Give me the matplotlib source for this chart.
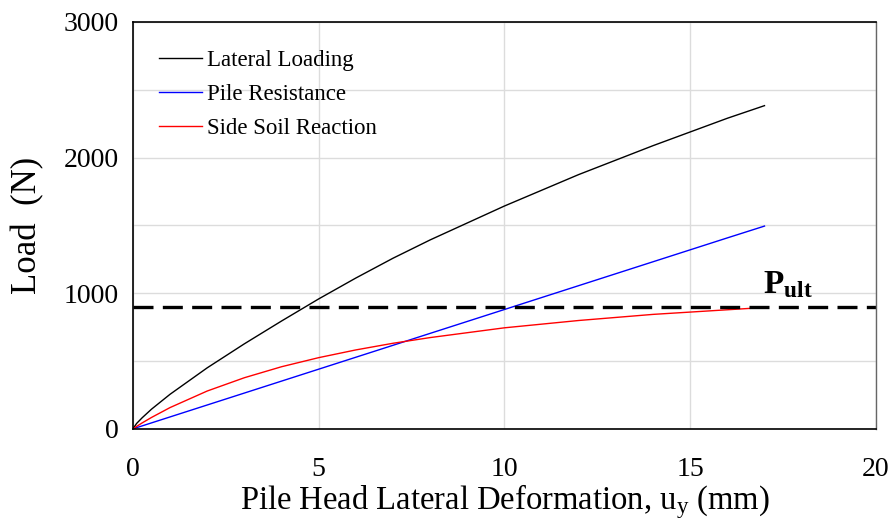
import matplotlib.pyplot as plt

plt.rcParams['font.family'] = ['Liberation Serif', 'DejaVu Serif']
plt.rcParams['mathtext.fontset'] = 'custom'
plt.rcParams['mathtext.rm'] = 'Liberation Serif'
plt.rcParams['mathtext.it'] = 'Liberation Serif'
plt.rcParams['mathtext.bf'] = 'Liberation Serif:bold'

# deformation (mm)
deform = [0, 0.1, 0.25, 0.5, 1, 2, 3, 4, 5, 6, 7, 8, 10, 12, 14, 16, 17]
# loads (N)
lateral_loading = [0, 40, 82, 145, 255, 450, 627, 795, 958, 1112, 1258, 1393, 1643, 1875, 2088, 2290, 2383]
pile_resistance = [0, 9, 22, 44, 88, 176, 264, 352, 440, 528, 616, 704, 880, 1056, 1232, 1408, 1495]
side_soil = [0, 18, 44, 84, 157, 279, 377, 458, 525, 582, 631, 673, 745, 799, 844, 878, 895]
p_ult = 900

fig = plt.figure(figsize=(8.92, 5.23), dpi=100)
ax = fig.add_axes([0.149, 0.180, 0.833, 0.778])

ax.plot(deform, lateral_loading, color='black', lw=1, label='Lateral Loading')
ax.plot(deform, pile_resistance, color='blue', lw=1, label='Pile Resistance')
ax.plot(deform, side_soil, color='red', lw=1, label='Side Soil Reaction')
ax.axhline(p_ult, color='black', lw=2.4, dashes=(6, 2.8))
ax.text(16.95, p_ult + 45, r'$\mathbf{P_{ult}}$', fontsize=24, ha='left', va='bottom')

ax.set_xlim(0, 20)
ax.set_ylim(0, 3000)
ax.set_xticks([0, 5, 10, 15, 20])
ax.set_yticks([0, 1000, 2000, 3000])
ax.set_yticks([500, 1500, 2500], minor=True)
ax.grid(True, which='both', color='#dcdcdc', lw=1)
ax.set_axisbelow(True)
ax.tick_params(length=0, labelsize=20, pad=10)
ax.tick_params(axis='x', pad=20)
ax.tick_params(which='minor', length=0)

for s in ['left', 'bottom', 'top']:
    ax.spines[s].set_color('black')
    ax.spines[s].set_linewidth(1.2)
ax.spines['right'].set_color('#666666')
ax.spines['right'].set_linewidth(1)

ax.set_xlabel('Pile Head Lateral Deformation, u$_\\mathrm{y}$ (mm)', fontsize=23.5, labelpad=0)
ax.set_ylabel('Load  (N)', fontsize=25, labelpad=14)

ax.legend(loc='upper left', bbox_to_anchor=(0.0226, 0.954), borderaxespad=0,
          frameon=False, fontsize=16.5, handlelength=1.87,
          labelspacing=0.56, handletextpad=0.22)

plt.savefig('out.png')
